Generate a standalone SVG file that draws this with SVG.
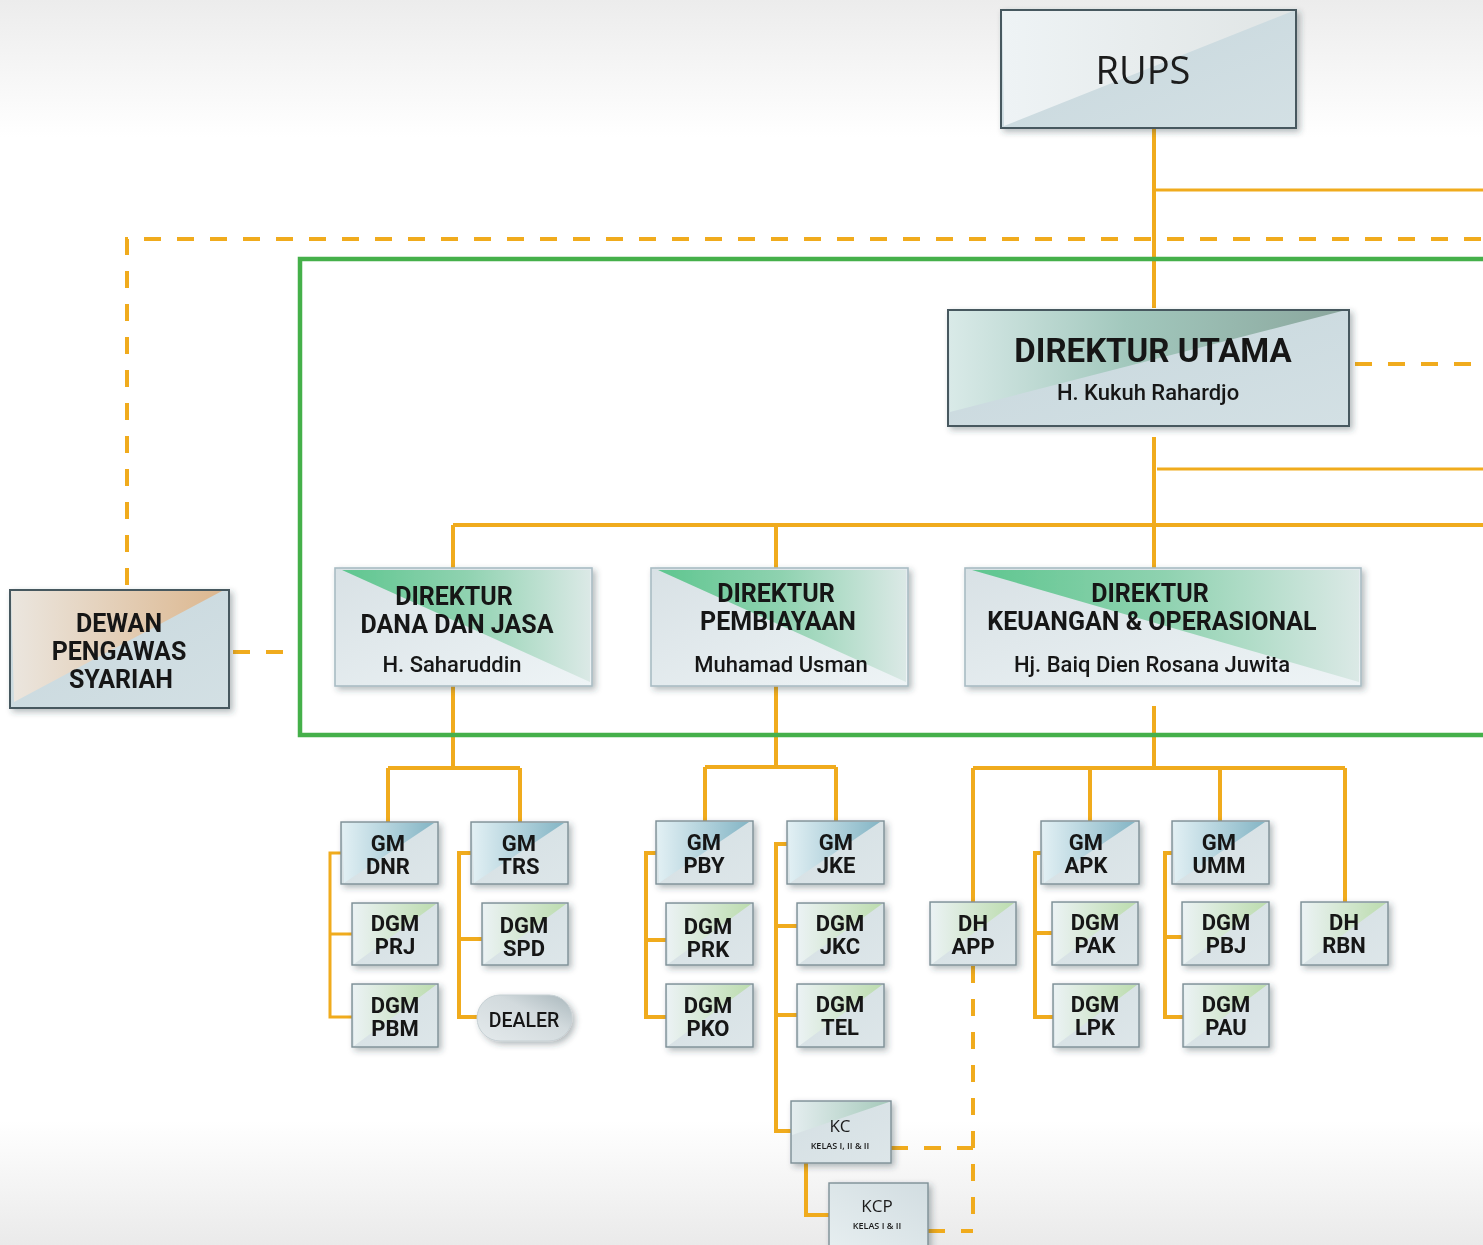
<svg xmlns="http://www.w3.org/2000/svg" width="1483" height="1245" viewBox="0 0 1483 1245">
<defs>
<linearGradient id="bg" x1="0" y1="0" x2="0" y2="1">
<stop offset="0" stop-color="#ececec"/><stop offset="0.11" stop-color="#ffffff"/><stop offset="0.9" stop-color="#ffffff"/><stop offset="1" stop-color="#eaeaea"/>
</linearGradient>
<linearGradient id="gRups" x1="0" y1="0" x2="1" y2="0"><stop offset="0" stop-color="#eef3f5"/><stop offset="1" stop-color="#e0e5e5"/></linearGradient>
<linearGradient id="gBase" x1="0" y1="0" x2="1" y2="1"><stop offset="0" stop-color="#c7d7dd"/><stop offset="1" stop-color="#d3e0e4"/></linearGradient>
<linearGradient id="gDU" x1="0" y1="0" x2="1" y2="0"><stop offset="0" stop-color="#d9eae8"/><stop offset="0.45" stop-color="#a2c8bd"/><stop offset="1" stop-color="#8ba79e"/></linearGradient>
<linearGradient id="gDewan" x1="0" y1="0" x2="1" y2="0"><stop offset="0" stop-color="#ebe6df"/><stop offset="1" stop-color="#dcb78f"/></linearGradient>
<linearGradient id="gDirBase" x1="0" y1="0" x2="1" y2="1"><stop offset="0" stop-color="#d8e1e5"/><stop offset="1" stop-color="#eef4f6"/></linearGradient>
<linearGradient id="gDirGreen" x1="0" y1="0" x2="1" y2="0"><stop offset="0" stop-color="#5ec68f"/><stop offset="0.5" stop-color="#8fd2b0"/><stop offset="1" stop-color="#dbe9e6"/></linearGradient>
<linearGradient id="gGM" x1="0" y1="0" x2="1" y2="0"><stop offset="0" stop-color="#e2f0f4"/><stop offset="1" stop-color="#84b5c5"/></linearGradient>
<linearGradient id="gDGM" x1="0" y1="0" x2="1" y2="0"><stop offset="0" stop-color="#ebf2f4"/><stop offset="1" stop-color="#bcdcae"/></linearGradient>
<linearGradient id="gSmallBase" x1="0" y1="0" x2="1" y2="1"><stop offset="0" stop-color="#d4dfe3"/><stop offset="1" stop-color="#dde6e9"/></linearGradient>
<linearGradient id="gKC" x1="0" y1="0" x2="1" y2="0"><stop offset="0" stop-color="#e4edef"/><stop offset="1" stop-color="#a6cabb"/></linearGradient>
<linearGradient id="gKCP" x1="0" y1="1" x2="1" y2="0"><stop offset="0" stop-color="#e6eef0"/><stop offset="1" stop-color="#d2dde1"/></linearGradient>
<linearGradient id="gDealer" x1="0" y1="1" x2="1" y2="0"><stop offset="0" stop-color="#e4eaec"/><stop offset="0.6" stop-color="#d2dadd"/><stop offset="1" stop-color="#a9b7bc"/></linearGradient>
<filter id="sh" x="-10%" y="-10%" width="125%" height="130%">
<feDropShadow dx="3" dy="3" stdDeviation="3" flood-color="#2a3a40" flood-opacity="0.35"/>
</filter>
<style>
.c{stroke:#f0ab1d;stroke-width:4;fill:none}
.t3{stroke-width:3}
.d{stroke-dasharray:17 16}
.big{stroke:#46585f;stroke-width:2}
.sm{stroke:#7d8f96;stroke-width:1.4}
.dir{stroke:#a9bcc4;stroke-width:1.6}
.b{font-family:Roboto,"Liberation Sans",sans-serif;font-weight:bold;fill:#161616;text-anchor:middle}
.m{font-family:Roboto,"Liberation Sans",sans-serif;font-weight:500;fill:#161616;text-anchor:middle}
.o{font-family:"Open Sans","Liberation Sans",sans-serif;fill:#1a1a1a;text-anchor:middle}
</style>
</defs>
<rect x="0" y="0" width="1483" height="1245" fill="url(#bg)"/>

<g id="connectors">
<path class="c" d="M1154 128V308"/>
<path class="c t3" d="M1154 190H1483"/>
<path class="c" d="M1154 437V568"/>
<path class="c t3" d="M1157 469H1483"/>
<path class="c" d="M453 525H1483M453 525V568M776 525V568"/>
<path class="c" d="M453 686V768M388 768H520M388 768V822M520 768V822"/>
<path class="c" d="M776 686V767M705 767H836M705 767V822M836 767V822"/>
<path class="c" d="M1154 706V768M973 768H1345M973 768V902M1090 768V822M1220 768V822M1345 768V902"/>
<path class="c t3" d="M341 853H330V1017H352M330 934H352"/>
<path class="c" d="M471 853H459V1017H477M459 939H482"/>
<path class="c" d="M656 853H646V1017H666M646 940H666"/>
<path class="c" d="M787 844H776V1131H791M776 926H797M776 1015H797"/>
<path class="c" d="M806 1163V1215H829"/>
<path class="c" d="M1041 853H1035V1017H1053M1035 933H1053"/>
<path class="c" d="M1172 853H1165V1017H1183M1165 937H1183"/>
<path class="c d" d="M127 585V239H1483"/>
<path class="c d" d="M1355 364H1483"/>
<path class="c d" d="M233 652H285"/>
<path class="c d" d="M973 966V1230"/>
<path class="c d" d="M891 1148H973"/>
<path class="c d" d="M928 1231H973"/>
<path d="M1490 259H300V735H1490" fill="none" stroke="#45b04a" stroke-width="4.5"/>
</g>

<g id="rups" filter="url(#sh)">
<rect x="1001" y="10" width="295" height="118" fill="url(#gBase)" class="big"/>
<polygon points="1002,11 1293,11 1004,126" fill="url(#gRups)"/>
<rect x="1001" y="10" width="295" height="118" fill="none" class="big"/>
<text x="1143" y="84" class="o" font-size="38">RUPS</text>
</g>

<g id="direktur-utama" filter="url(#sh)">
<rect x="948" y="310" width="401" height="116" fill="url(#gBase)"/>
<polygon points="949,311 1342,311 950,412" fill="url(#gDU)"/>
<rect x="948" y="310" width="401" height="116" fill="none" class="big"/>
<text x="1153" y="362" class="b" font-size="33">DIREKTUR UTAMA</text>
<text x="1148" y="400" class="m" font-size="22">H. Kukuh Rahardjo</text>
</g>

<g id="dewan" filter="url(#sh)">
<rect x="10" y="590" width="219" height="118" fill="url(#gBase)"/>
<polygon points="11,591 222,591 14,702" fill="url(#gDewan)"/>
<rect x="10" y="590" width="219" height="118" fill="none" class="big"/>
<text x="119" y="632" class="b" font-size="25">DEWAN</text>
<text x="119" y="660" class="b" font-size="25">PENGAWAS</text>
<text x="121" y="688" class="b" font-size="25">SYARIAH</text>
</g>

<g id="dir-dana" filter="url(#sh)">
<rect x="335" y="568" width="257" height="118" fill="url(#gDirBase)" class="dir"/>
<polygon points="342,570 590,570 590,682" fill="url(#gDirGreen)"/>
<text x="454" y="605" class="b" font-size="25">DIREKTUR</text>
<text x="457" y="633" class="b" font-size="25">DANA DAN JASA</text>
<text x="452" y="672" class="m" font-size="22">H. Saharuddin</text>
</g>

<g id="dir-pembiayaan" filter="url(#sh)">
<rect x="651" y="568" width="257" height="118" fill="url(#gDirBase)" class="dir"/>
<polygon points="658,570 906,570 906,682" fill="url(#gDirGreen)"/>
<text x="776" y="602" class="b" font-size="25">DIREKTUR</text>
<text x="778" y="630" class="b" font-size="25">PEMBIAYAAN</text>
<text x="781" y="672" class="m" font-size="22">Muhamad Usman</text>
</g>

<g id="dir-keuangan" filter="url(#sh)">
<rect x="965" y="568" width="396" height="118" fill="url(#gDirBase)" class="dir"/>
<polygon points="972,570 1359,570 1359,682" fill="url(#gDirGreen)"/>
<text x="1150" y="602" class="b" font-size="25">DIREKTUR</text>
<text x="1152" y="630" class="b" font-size="25">KEUANGAN &amp; OPERASIONAL</text>
<text x="1152" y="672" class="m" font-size="22">Hj. Baiq Dien Rosana Juwita</text>
</g>

<!-- GM boxes -->
<g id="gm-dnr" filter="url(#sh)">
<rect x="341" y="822" width="97" height="62" fill="url(#gSmallBase)" class="sm"/>
<polygon points="342,823 434,823 344,883" fill="url(#gGM)"/>
<text x="388" y="851" class="b" font-size="22">GM</text><text x="388" y="874" class="b" font-size="22">DNR</text>
</g>
<g id="gm-trs" filter="url(#sh)">
<rect x="471" y="822" width="97" height="62" fill="url(#gSmallBase)" class="sm"/>
<polygon points="472,823 564,823 474,883" fill="url(#gGM)"/>
<text x="519" y="851" class="b" font-size="22">GM</text><text x="519" y="874" class="b" font-size="22">TRS</text>
</g>
<g id="gm-pby" filter="url(#sh)">
<rect x="656" y="821" width="97" height="63" fill="url(#gSmallBase)" class="sm"/>
<polygon points="657,822 749,822 659,883" fill="url(#gGM)"/>
<text x="704" y="850" class="b" font-size="22">GM</text><text x="704" y="873" class="b" font-size="22">PBY</text>
</g>
<g id="gm-jke" filter="url(#sh)">
<rect x="787" y="821" width="97" height="63" fill="url(#gSmallBase)" class="sm"/>
<polygon points="788,822 880,822 790,883" fill="url(#gGM)"/>
<text x="836" y="850" class="b" font-size="22">GM</text><text x="836" y="873" class="b" font-size="22">JKE</text>
</g>
<g id="gm-apk" filter="url(#sh)">
<rect x="1041" y="821" width="98" height="63" fill="url(#gSmallBase)" class="sm"/>
<polygon points="1042,822 1135,822 1044,883" fill="url(#gGM)"/>
<text x="1086" y="850" class="b" font-size="22">GM</text><text x="1086" y="873" class="b" font-size="22">APK</text>
</g>
<g id="gm-umm" filter="url(#sh)">
<rect x="1172" y="821" width="97" height="63" fill="url(#gSmallBase)" class="sm"/>
<polygon points="1173,822 1265,822 1175,883" fill="url(#gGM)"/>
<text x="1219" y="850" class="b" font-size="22">GM</text><text x="1219" y="873" class="b" font-size="22">UMM</text>
</g>

<!-- DGM / DH boxes -->
<g id="dgm-prj" filter="url(#sh)">
<rect x="352" y="903" width="86" height="62" fill="url(#gSmallBase)" class="sm"/>
<polygon points="353,904 436,904 354,964" fill="url(#gDGM)"/>
<text x="395" y="931" class="b" font-size="22">DGM</text><text x="395" y="954" class="b" font-size="22">PRJ</text>
</g>
<g id="dgm-pbm" filter="url(#sh)">
<rect x="352" y="984" width="86" height="63" fill="url(#gSmallBase)" class="sm"/>
<polygon points="353,985 436,985 354,1046" fill="url(#gDGM)"/>
<text x="395" y="1013" class="b" font-size="22">DGM</text><text x="395" y="1036" class="b" font-size="22">PBM</text>
</g>
<g id="dgm-spd" filter="url(#sh)">
<rect x="482" y="903" width="86" height="62" fill="url(#gSmallBase)" class="sm"/>
<polygon points="483,904 566,904 484,964" fill="url(#gDGM)"/>
<text x="524" y="933" class="b" font-size="22">DGM</text><text x="524" y="956" class="b" font-size="22">SPD</text>
</g>
<g id="dealer" filter="url(#sh)">
<rect x="477" y="995" width="95" height="46" rx="23" ry="23" fill="url(#gDealer)" stroke="#c5cfd3" stroke-width="1"/>
<text x="524" y="1027" class="m" font-size="19.5">DEALER</text>
</g>
<g id="dgm-prk" filter="url(#sh)">
<rect x="666" y="903" width="87" height="62" fill="url(#gSmallBase)" class="sm"/>
<polygon points="667,904 751,904 668,964" fill="url(#gDGM)"/>
<text x="708" y="934" class="b" font-size="22">DGM</text><text x="708" y="957" class="b" font-size="22">PRK</text>
</g>
<g id="dgm-pko" filter="url(#sh)">
<rect x="666" y="984" width="87" height="63" fill="url(#gSmallBase)" class="sm"/>
<polygon points="667,985 751,985 668,1046" fill="url(#gDGM)"/>
<text x="708" y="1013" class="b" font-size="22">DGM</text><text x="708" y="1036" class="b" font-size="22">PKO</text>
</g>
<g id="dgm-jkc" filter="url(#sh)">
<rect x="797" y="903" width="87" height="62" fill="url(#gSmallBase)" class="sm"/>
<polygon points="798,904 882,904 799,964" fill="url(#gDGM)"/>
<text x="840" y="931" class="b" font-size="22">DGM</text><text x="840" y="954" class="b" font-size="22">JKC</text>
</g>
<g id="dgm-tel" filter="url(#sh)">
<rect x="797" y="984" width="87" height="63" fill="url(#gSmallBase)" class="sm"/>
<polygon points="798,985 882,985 799,1046" fill="url(#gDGM)"/>
<text x="840" y="1012" class="b" font-size="22">DGM</text><text x="840" y="1035" class="b" font-size="22">TEL</text>
</g>
<g id="dh-app" filter="url(#sh)">
<rect x="930" y="902" width="86" height="63" fill="url(#gSmallBase)" class="sm"/>
<polygon points="931,903 1014,903 932,964" fill="url(#gDGM)"/>
<text x="973" y="931" class="b" font-size="22">DH</text><text x="973" y="954" class="b" font-size="22">APP</text>
</g>
<g id="dgm-pak" filter="url(#sh)">
<rect x="1052" y="902" width="86" height="63" fill="url(#gSmallBase)" class="sm"/>
<polygon points="1053,903 1136,903 1054,964" fill="url(#gDGM)"/>
<text x="1095" y="930" class="b" font-size="22">DGM</text><text x="1095" y="953" class="b" font-size="22">PAK</text>
</g>
<g id="dgm-lpk" filter="url(#sh)">
<rect x="1053" y="984" width="86" height="63" fill="url(#gSmallBase)" class="sm"/>
<polygon points="1054,985 1137,985 1055,1046" fill="url(#gDGM)"/>
<text x="1095" y="1012" class="b" font-size="22">DGM</text><text x="1095" y="1035" class="b" font-size="22">LPK</text>
</g>
<g id="dgm-pbj" filter="url(#sh)">
<rect x="1182" y="902" width="87" height="63" fill="url(#gSmallBase)" class="sm"/>
<polygon points="1183,903 1267,903 1184,964" fill="url(#gDGM)"/>
<text x="1226" y="930" class="b" font-size="22">DGM</text><text x="1226" y="953" class="b" font-size="22">PBJ</text>
</g>
<g id="dgm-pau" filter="url(#sh)">
<rect x="1183" y="984" width="86" height="63" fill="url(#gSmallBase)" class="sm"/>
<polygon points="1184,985 1267,985 1185,1046" fill="url(#gDGM)"/>
<text x="1226" y="1012" class="b" font-size="22">DGM</text><text x="1226" y="1035" class="b" font-size="22">PAU</text>
</g>
<g id="dh-rbn" filter="url(#sh)">
<rect x="1301" y="902" width="87" height="63" fill="url(#gSmallBase)" class="sm"/>
<polygon points="1302,903 1386,903 1303,964" fill="url(#gDGM)"/>
<text x="1344" y="930" class="b" font-size="22">DH</text><text x="1344" y="953" class="b" font-size="22">RBN</text>
</g>

<g id="kc" filter="url(#sh)">
<rect x="791" y="1101" width="100" height="62" fill="url(#gSmallBase)" class="sm"/>
<polygon points="792,1102 889,1102 792,1135" fill="url(#gKC)"/>
<text x="840" y="1132" class="o" font-size="17">KC</text>
<text x="840" y="1149" class="o" font-size="9" font-weight="600">KELAS I, II &amp; II</text>
</g>
<g id="kcp" filter="url(#sh)">
<rect x="829" y="1183" width="99" height="64" fill="url(#gKCP)" class="sm"/>
<text x="877" y="1212" class="o" font-size="17">KCP</text>
<text x="877" y="1229" class="o" font-size="9" font-weight="600">KELAS I &amp; II</text>
</g>
</svg>
